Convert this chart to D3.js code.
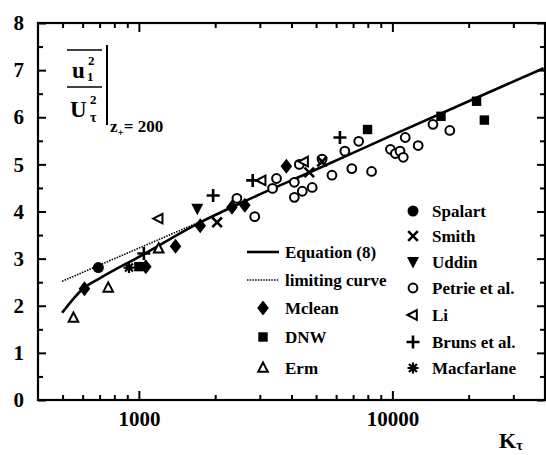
<!DOCTYPE html>
<html><head><meta charset="utf-8">
<script src="https://cdn.jsdelivr.net/npm/d3@7"></script>
<style>body{margin:0;background:#fff}svg{display:block}</style>
</head><body>
<svg id="c" width="546" height="455"></svg>
<script>
// ---- data ----
const xTickMajor = [1000, 10000];
const xTickMinor = [500,600,700,800,900,2000,3000,4000,5000,6000,7000,8000,9000,20000,30000];
const yTickMajor = [0,1,2,3,4,5,6,7,8];
const yTickMinor = [0.5,1.5,2.5,3.5,4.5,5.5,6.5,7.5];

const equationK = [498,602,700,1018,1746,2500,5000,10000,20000,39500];
const equationY = [1.85,2.36,2.58,3.06,3.77,4.17,4.89,5.62,6.34,7.04];
const limitingK = [498,2100];
const limitingY = [2.52,3.97];

const spalartK = [692];           const spalartY = [2.81];
const smithK = [2035,4700,5280];  const smithY = [3.77,4.83,5.06];
const uddinK = [1700];            const uddinY = [4.06];
const petrieK = [2436,2864,3368,3491,4105,4412,4105,4827,4295,5281,5776,6494,6918,7365,8279,9822,10272,10720,11040,11240,12640,14460,16850];
const petrieY = [4.28,3.89,4.49,4.70,4.62,4.43,4.30,4.51,5.00,5.11,4.77,5.28,4.91,5.49,4.85,5.32,5.23,5.28,5.15,5.57,5.40,5.85,5.72];
const liK = [1197,3050,4485];     const liY = [3.85,4.66,5.06];
const brunsK = [1046,1963,2812,6210]; const brunsY = [3.11,4.34,4.66,5.57];
const macfarlaneK = [914];        const macfarlaneY = [2.81];
const mcleanK = [610,1065,1395,1746,2329,2618,3818];
const mcleanY = [2.36,2.83,3.26,3.70,4.09,4.13,4.96];
const dnwK = [1000,7980,15550,21480,23060];
const dnwY = [2.83,5.74,6.02,6.34,5.94];
const ermK = [552,757,1197];      const ermY = [1.74,2.38,3.21];

const legendLeft = ["Equation (8)","limiting curve","Mclean","DNW","Erm"];
const legendRight = ["Spalart","Smith","Uddin","Petrie et al.","Li","Bruns et al.","Macfarlane"];

// ---- setup ----
const FONT = "'Liberation Serif','DejaVu Serif',serif";
const svg = d3.select("#c");
svg.append("rect").attr("width",546).attr("height",455).attr("fill","#fff");
const x = d3.scaleLog().domain([400,40000]).range([38,545]);
const y = d3.scaleLinear().domain([0,8]).range([400,23]);
const X0=38, X1=545, Y0=400, Y1=23;

function styleAxis(g, size){
  g.select(".domain").remove();
  g.selectAll("line").attr("stroke","#000").attr("stroke-width",2);
  g.selectAll("text").attr("font-family",FONT).attr("font-weight","bold")
   .attr("font-size",size||21).attr("fill","#000");
}
// bottom
svg.append("g").attr("transform",`translate(0,${Y0})`)
  .call(d3.axisBottom(x).tickValues(xTickMajor).tickSize(-9).tickPadding(11).tickFormat(d3.format("d")))
  .call(styleAxis);
svg.append("g").attr("transform",`translate(0,${Y0})`)
  .call(d3.axisBottom(x).tickValues(xTickMinor).tickSize(-5).tickFormat(""))
  .call(styleAxis);
// top
svg.append("g").attr("transform",`translate(0,${Y1})`)
  .call(d3.axisTop(x).tickValues(xTickMajor).tickSize(-9).tickFormat(""))
  .call(styleAxis);
svg.append("g").attr("transform",`translate(0,${Y1})`)
  .call(d3.axisTop(x).tickValues(xTickMinor).tickSize(-5).tickFormat(""))
  .call(styleAxis);
// left
svg.append("g").attr("transform",`translate(${X0},0)`)
  .call(d3.axisLeft(y).tickValues(yTickMajor).tickSize(-8).tickPadding(14).tickFormat(d3.format("d")))
  .call(styleAxis);
svg.append("g").attr("transform",`translate(${X0},0)`)
  .call(d3.axisLeft(y).tickValues(yTickMinor).tickSize(-5).tickFormat(""))
  .call(styleAxis);
// right
svg.append("g").attr("transform",`translate(${X1},0)`)
  .call(d3.axisRight(y).tickValues(yTickMajor).tickSize(-8).tickFormat(""))
  .call(styleAxis);
svg.append("g").attr("transform",`translate(${X1},0)`)
  .call(d3.axisRight(y).tickValues(yTickMinor).tickSize(-5).tickFormat(""))
  .call(styleAxis);
// frame
svg.append("rect").attr("x",X0).attr("y",Y1).attr("width",X1-X0).attr("height",Y0-Y1)
  .attr("fill","none").attr("stroke","#000").attr("stroke-width",2.2);

// ---- curves ----
const line = d3.line().x(d=>x(d[0])).y(d=>y(d[1])).curve(d3.curveMonotoneX);
svg.append("path").datum(d3.zip(limitingK,limitingY)).attr("d",line)
  .attr("fill","none").attr("stroke","#000").attr("stroke-width",1.6).attr("stroke-dasharray","1.5,1.2");
svg.append("path").datum(d3.zip(equationK,equationY)).attr("d",line)
  .attr("fill","none").attr("stroke","#000").attr("stroke-width",2.6);

// ---- symbols ----
const sym = {
  circleFilled: g=>g.append("circle").attr("r",5.5).attr("fill","#000"),
  circleOpen: g=>g.append("circle").attr("r",4.4).attr("fill","#fff").attr("stroke","#000").attr("stroke-width",2),
  diamond: g=>g.append("path").attr("d","M0,-7.5L5.8,0L0,7.5L-5.8,0Z").attr("fill","#000"),
  square: g=>g.append("rect").attr("x",-4.7).attr("y",-4.7).attr("width",9.4).attr("height",9.4).attr("fill","#000"),
  triUp: g=>g.append("path").attr("d","M0,-5.5L4.8,3.8L-4.8,3.8Z").attr("fill","#fff").attr("stroke","#000").attr("stroke-width",2),
  triDown: g=>g.append("path").attr("d","M-6,-5L6,-5L0,6.5Z").attr("fill","#000"),
  triLeft: g=>g.append("path").attr("d","M-5.5,0L3.8,-4.8L3.8,4.8Z").attr("fill","#fff").attr("stroke","#000").attr("stroke-width",2),
  plus: g=>g.append("path").attr("d","M-6.5,0H6.5M0,-6.5V6.5").attr("stroke","#000").attr("stroke-width",2.6),
  times: g=>g.append("path").attr("d","M-4.8,-4.8L4.8,4.8M-4.8,4.8L4.8,-4.8").attr("stroke","#000").attr("stroke-width",2.6),
  asterisk: g=>g.append("path").attr("d","M-5.5,0H5.5M0,-5.5V5.5M-4,-4L4,4M-4,4L4,-4").attr("stroke","#000").attr("stroke-width",2.2)
};
function series(K, Y, shape){
  const g = svg.append("g");
  d3.zip(K,Y).forEach(d=>{
    const s = g.append("g").attr("transform",`translate(${x(d[0])},${y(d[1])})`);
    sym[shape](s);
  });
}
series(petrieK, petrieY, "circleOpen");
series(ermK, ermY, "triUp");
series(liK, liY, "triLeft");
series(mcleanK, mcleanY, "diamond");
series(dnwK, dnwY, "square");
series(uddinK, uddinY, "triDown");
series(spalartK, spalartY, "circleFilled");
series(smithK, smithY, "times");
series(brunsK, brunsY, "plus");
series(macfarlaneK, macfarlaneY, "asterisk");

// ---- legend ----
const lg = svg.append("g").attr("font-family",FONT).attr("font-weight","bold").attr("font-size",17);
const leftRows = [252,280,308,337,368];
const leftSym = [null,null,"diamond","square","triUp"];
legendLeft.forEach((t,i)=>{
  const yy = leftRows[i];
  if(i===0) lg.append("line").attr("x1",247).attr("x2",279).attr("y1",yy).attr("y2",yy).attr("stroke","#000").attr("stroke-width",2.6);
  else if(i===1) lg.append("line").attr("x1",247).attr("x2",279).attr("y1",yy).attr("y2",yy).attr("stroke","#000").attr("stroke-width",1.6).attr("stroke-dasharray","1.5,1.2");
  else sym[leftSym[i]](lg.append("g").attr("transform",`translate(263,${yy})`));
  lg.append("text").attr("x",285).attr("y",yy+6).text(t);
});
const rightRows = [211,236,262,288,315,342,368];
const rightSym = ["circleFilled","times","triDown","circleOpen","triLeft","plus","asterisk"];
legendRight.forEach((t,i)=>{
  const yy = rightRows[i];
  sym[rightSym[i]](lg.append("g").attr("transform",`translate(413,${yy})`));
  lg.append("text").attr("x",432).attr("y",yy+6).text(t);
});

// ---- axis titles ----
const kt = svg.append("text").attr("x",499).attr("y",448).attr("font-family",FONT).attr("font-weight","bold").attr("font-size",22);
kt.append("tspan").text("K");
kt.append("tspan").attr("font-size",14).attr("dy",2).text("τ");

const yl = svg.append("g").attr("font-family",FONT).attr("font-weight","bold");
yl.append("line").attr("x1",67).attr("x2",102).attr("y1",50).attr("y2",50).attr("stroke","#000").attr("stroke-width",1.5);
yl.append("text").attr("x",72).attr("y",78).attr("font-size",23).text("u");
yl.append("text").attr("x",88).attr("y",65).attr("font-size",13).text("2");
yl.append("text").attr("x",87).attr("y",81).attr("font-size",13).text("1");
yl.append("line").attr("x1",67).attr("x2",102).attr("y1",87).attr("y2",87).attr("stroke","#000").attr("stroke-width",1.5);
yl.append("text").attr("x",70).attr("y",117).attr("font-size",23).text("U");
yl.append("text").attr("x",90).attr("y",104).attr("font-size",13).text("2");
yl.append("text").attr("x",90).attr("y",122).attr("font-size",14).text("τ");
yl.append("line").attr("x1",107).attr("x2",107).attr("y1",45).attr("y2",125).attr("stroke","#000").attr("stroke-width",2);
const zt = yl.append("text").attr("x",110).attr("y",132).attr("font-size",17);
zt.append("tspan").text("z");
zt.append("tspan").attr("font-size",11).attr("dy",4).text("+");
zt.append("tspan").attr("dy",-4).text("= 200");
</script>
</body></html>
